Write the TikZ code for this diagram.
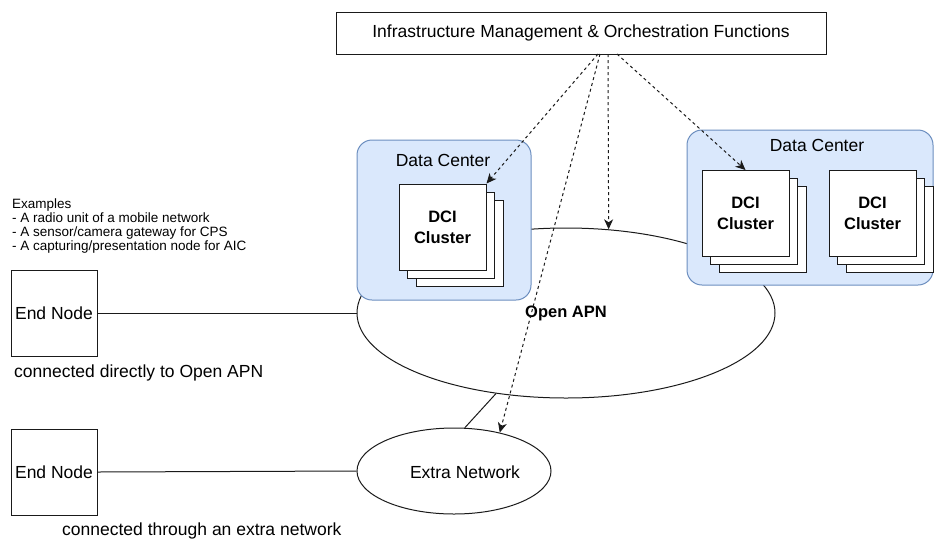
\documentclass[tikz,border=0pt]{standalone}
\usepackage{fontspec}
\setmainfont{Liberation Sans}
\usetikzlibrary{shapes.geometric,arrows.meta}
\definecolor{dcfill}{HTML}{DAE8FC}
\definecolor{dcline}{HTML}{6C8EBF}
\definecolor{ln}{HTML}{1A1A1A}
\tikzset{
  txt/.style={font=\fontsize{17.5}{21}\selectfont, inner sep=0pt},
  small/.style={font=\fontsize{13.5}{14}\selectfont, inner sep=0pt, align=left},
  plainbox/.style={draw=ln, line width=1pt, fill=white, inner sep=0pt},
  dcbox/.style={draw=dcline, line width=1pt, fill=dcfill, rounded corners=15pt, inner sep=0pt},
  dcicard/.style={draw=ln, line width=1pt, fill=white, minimum width=87pt, minimum height=86pt, inner sep=0pt, align=center, font=\fontsize{16.5}{21}\selectfont\bfseries},
  net/.style={draw=ln, line width=1pt, ellipse, inner sep=0pt},
  conn/.style={draw=ln, line width=1pt},
  dasharrow/.style={draw=ln, line width=1pt, dash pattern=on 3pt off 3pt, -{Stealth[length=10pt,width=9pt,inset=3pt]}},
}
\begin{document}
\begin{tikzpicture}[x=1pt,y=-1pt]
\useasboundingbox (0,0) rectangle (936,539);

% top box
\node[plainbox, txt, minimum width=490pt, minimum height=42pt] (top) at (581,33) {Infrastructure Management \& Orchestration Functions};

% Open APN and extra network
\node[net, minimum width=418pt, minimum height=170pt] (apn) at (566,313) {};
\node[txt, font=\fontsize{16.5}{19}\selectfont\bfseries] (apnlabel) at (566,313) {Open APN};
\node[net, minimum width=194pt, minimum height=86pt] (extra) at (454,471) {};
\node[txt] (extralabel) at (465,472) {Extra Network};

% left data center
\node[dcbox, minimum width=174pt, minimum height=160pt] (dc1) at (444,220) {};
\node[txt] (dc1label) at (443,160) {Data Center};
\node[dcicard] (dci1c) at (459.5,243) {};
\node[dcicard] (dci1b) at (451,235) {};
\node[dcicard] (dci1) at (442.5,227) {DCI\\Cluster};

% right data center
\node[dcbox, minimum width=246pt, minimum height=155pt] (dc2) at (810,207.5) {};
\node[txt] (dc2label) at (817,145) {Data Center};
\node[dcicard] (dci2c) at (762.5,229.5) {};
\node[dcicard] (dci2b) at (754,221.5) {};
\node[dcicard] (dci2) at (745.5,213.5) {DCI\\Cluster};
\node[dcicard] (dci3c) at (889.5,229.5) {};
\node[dcicard] (dci3b) at (881,221.5) {};
\node[dcicard] (dci3) at (872.5,213.5) {DCI\\Cluster};

% end nodes
\node[plainbox, txt, minimum width=86pt, minimum height=86pt] (end1) at (54,313) {End Node};
\node[plainbox, txt, minimum width=86pt, minimum height=86pt] (end2) at (54,472) {End Node};
\node[txt, anchor=west] (end1note) at (14,373) {connected directly to Open APN};
\node[txt, anchor=west] (end2note) at (62,531) {connected through an extra network};
\node[small, anchor=north west] (examples) at (12,199) {Examples\\- A radio unit of a mobile network\\- A sensor/camera gateway for CPS\\- A capturing/presentation node for AIC};

% solid connectors
\draw[conn] (end1.east) -- (apn.west);
\draw[conn] (end2.east) -- (extra.west);
\draw[conn] (apn.229) -- (extra.76);

% dashed arrows
\coordinate (s1) at (598,54);
\coordinate (s2) at (600,54);
\coordinate (s3) at (608,54);
\coordinate (s4) at (617,54);
\draw[dasharrow] (s1) -- (dci1.north east);
\draw[dasharrow] (s2) -- (extra.40);
\draw[dasharrow] (s3) -- (apn.63);
\draw[dasharrow] (s4) -- (dci2.north);
\end{tikzpicture}
\end{document}
